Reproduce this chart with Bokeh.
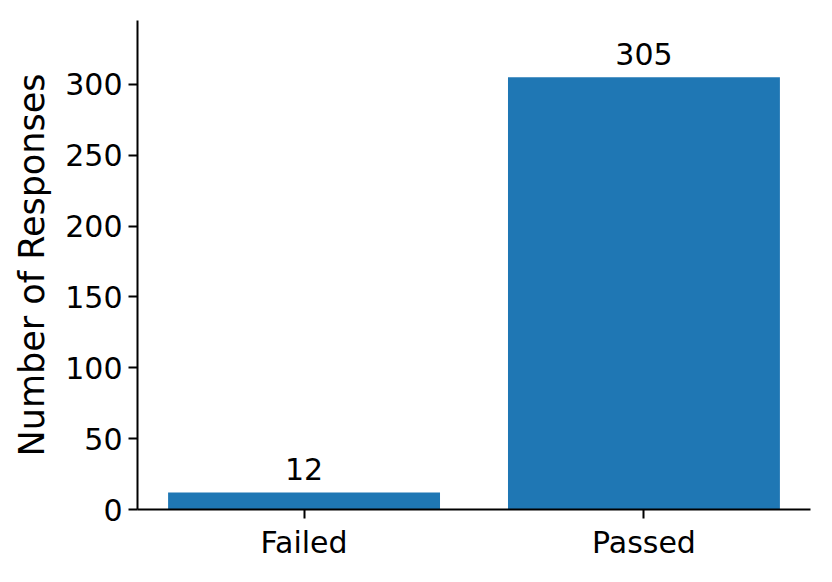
from bokeh.plotting import figure
from bokeh.models import ColumnDataSource, Range1d, FixedTicker
from bokeh.core.properties import value
from bokeh.embed import file_html
from bokeh.resources import INLINE

categories = ["Failed", "Passed"]
counts = [12, 305]
y_ticks = [0, 50, 100, 150, 200, 250, 300]

xs = list(range(len(categories)))
src = ColumnDataSource(dict(x=xs, count=counts, label=[str(c) for c in counts]))

FONT = "DejaVu Sans"

p = figure(width=830, height=580, output_backend="svg", toolbar_location=None,
           x_range=Range1d(-0.49, 1.49), y_range=Range1d(0, 345),
           min_border_left=137, min_border_right=20, min_border_top=20, min_border_bottom=71)
p.outline_line_color = None
p.xgrid.visible = False
p.ygrid.visible = False
p.background_fill_color = "white"
p.border_fill_color = "white"

p.vbar(x="x", top="count", width=0.8, bottom=0, source=src, color="#1f77b4", line_color=None)
p.text(x="x", y="count", text="label", source=src, text_align="center", text_baseline="alphabetic",
       y_offset=-23, text_font=value(FONT), text_font_size="30px", text_color="black")

for ax in (p.xaxis[0], p.yaxis[0]):
    ax.axis_line_width = 2
    ax.axis_line_color = "black"
    ax.major_tick_line_width = 2
    ax.major_tick_line_color = "black"
    ax.major_tick_out = 9
    ax.major_tick_in = 0
    ax.minor_tick_line_color = None
    ax.major_label_text_font = FONT
    ax.major_label_text_font_size = "30px"
    ax.major_label_text_color = "black"
    ax.major_label_standoff = 6

p.xaxis.ticker = FixedTicker(ticks=xs)
p.xaxis.major_label_overrides = {i: c for i, c in enumerate(categories)}
p.yaxis.ticker = FixedTicker(ticks=y_ticks)
p.yaxis.axis_label = "Number of Responses"
p.yaxis.axis_label_text_font = FONT
p.yaxis.axis_label_text_font_size = "35px"
p.yaxis.axis_label_text_font_style = "normal"
p.yaxis.axis_label_text_color = "black"
p.yaxis.axis_label_standoff = 10

open("out.html", "w").write(file_html(p, INLINE))
